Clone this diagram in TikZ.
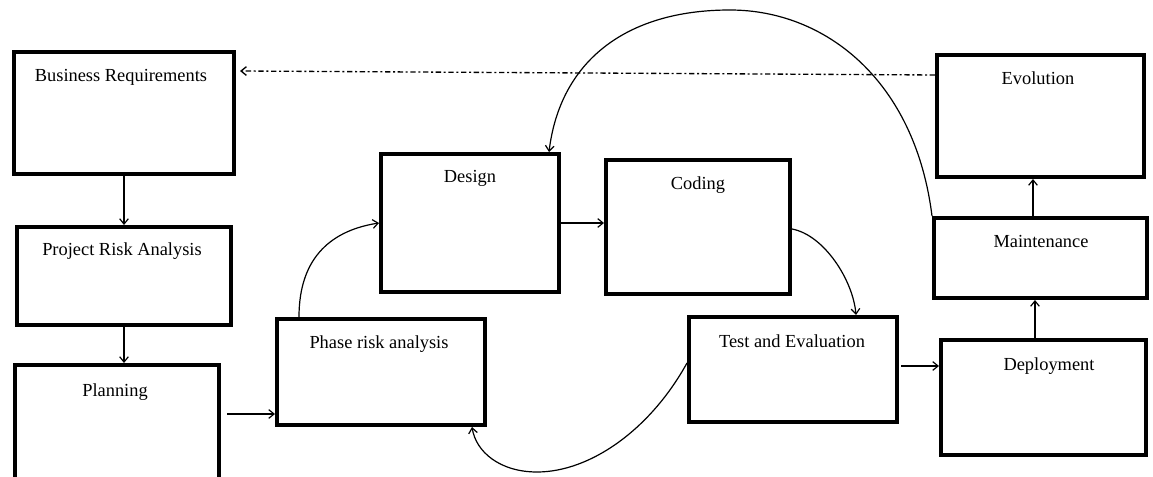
\documentclass[tikz,border=0pt]{standalone}
\usepackage{fontspec}
\setmainfont{Liberation Serif}
\usetikzlibrary{arrows.meta,calc}

\begin{document}
\begin{tikzpicture}[x=0.75pt,y=-0.75pt,
  box/.style={draw=black, line width=3pt, fill=white, inner sep=0pt, rectangle},
  lbl/.style={anchor=base, inner sep=0pt, font=\fontsize{13.8}{16}\selectfont},
  conn/.style={line width=0.9pt, -{Straight Barb[length=4pt,width=6.5pt]}},
  feedback/.style={conn, line width=1pt, dash pattern=on 4pt off 2pt on 1.5pt off 2pt}]

% page frame
\useasboundingbox (0,0) rectangle (1153,477);
\fill[white] (0,0) rectangle (1153,477);
\clip (0,0) rectangle (1153,477);

% process stages
\node[box, minimum width=220*0.75pt, minimum height=122*0.75pt] (br)     at (124,113)    {};
\node[box, minimum width=214*0.75pt, minimum height=98*0.75pt]  (pra)    at (124,276)    {};
\node[box, minimum width=204*0.75pt, minimum height=125*0.75pt] (plan)   at (117,427.5)  {};
\node[box, minimum width=208*0.75pt, minimum height=106*0.75pt] (phase)  at (381,372)    {};
\node[box, minimum width=178*0.75pt, minimum height=138*0.75pt] (design) at (470,223)    {};
\node[box, minimum width=184*0.75pt, minimum height=134*0.75pt] (coding) at (698,227)    {};
\node[box, minimum width=208*0.75pt, minimum height=105*0.75pt] (test)   at (793,369.5)  {};
\node[box, minimum width=205*0.75pt, minimum height=115*0.75pt] (deploy) at (1043.5,397.5) {};
\node[box, minimum width=213*0.75pt, minimum height=80*0.75pt]  (maint)  at (1040.5,258)  {};
\node[box, minimum width=207*0.75pt, minimum height=122*0.75pt] (evol)   at (1040.5,116)  {};

% stage titles
\node[lbl] (brt)     at (121,82)   {Business Requirements};
\node[lbl] (prat)    at (122,256)  {Project Risk Analysis};
\node[lbl] (plant)   at (115,396)  {Planning};
\node[lbl] (phaset)  at (379,349)  {Phase risk analysis};
\node[lbl] (designt) at (470,183)  {Design};
\node[lbl] (codingt) at (698,190)  {Coding};
\node[lbl] (testt)   at (792,347)  {Test and Evaluation};
\node[lbl] (deployt) at (1049,370) {Deployment};
\node[lbl] (maintt)  at (1041,248) {Maintenance};
\node[lbl] (evolt)   at (1038,85)  {Evolution};

% straight flow
\draw[conn] (br.south) -- (pra.north);
\draw[conn] (pra.south) -- (pra.south |- plan.north);
\coordinate (pl1) at ($(plan.east)+(6,-13.5)$);
\draw[conn] (pl1) -- (pl1 -| phase.west);
\draw[conn] (design.east) -- (coding.west |- design.east);
\coordinate (td1) at ($(test.east)+(2,-3.5)$);
\draw[conn] (td1) -- (td1 -| deploy.west);
\coordinate (dm) at (1035,0);
\draw[conn] (dm |- deploy.north) -- (dm |- maint.south);
\coordinate (me) at (1033,0);
\draw[conn] (me |- maint.north) -- (me |- evol.south);

% curved flow
\coordinate (ph1) at ($(phase.north west)+(24,0)$);
\draw[conn] (ph1) .. controls ($(ph1)+(0,-62)$) and ($(design.west)+(-45,7)$) .. (design.west);
\coordinate (cd1) at ($(coding.east)+(0,2)$);
\coordinate (ts1) at ($(test.north)+(63,0)$);
\draw[conn] (cd1) .. controls ($(cd1)+(32,6)$) and ($(ts1)+(-3,-35)$) .. (ts1);

% iteration loops
\coordinate (de1) at ($(design.north east)+(-12,0)$);
\draw[conn] (maint.north west) .. controls (915,80) and (825,10) .. (730,10)
  .. controls (625,10) and (560,62) .. (de1);
\coordinate (tp1) at ($(test.west)+(0,-6.5)$);
\coordinate (pp1) at ($(phase.south)+(91,0)$);
\draw[conn] (tp1) .. controls ($(tp1)+(-37,67)$) and (590,472) .. (537,472)
  .. controls (500,472) and (476,452) .. (pp1);

% feedback from evolution to requirements
\coordinate (ev1) at ($(evol.west)+(0,-41)$);
\coordinate (br1) at ($(br.east)+(4,-42)$);
\draw[feedback] (ev1) -- (br1);
\end{tikzpicture}
\end{document}
